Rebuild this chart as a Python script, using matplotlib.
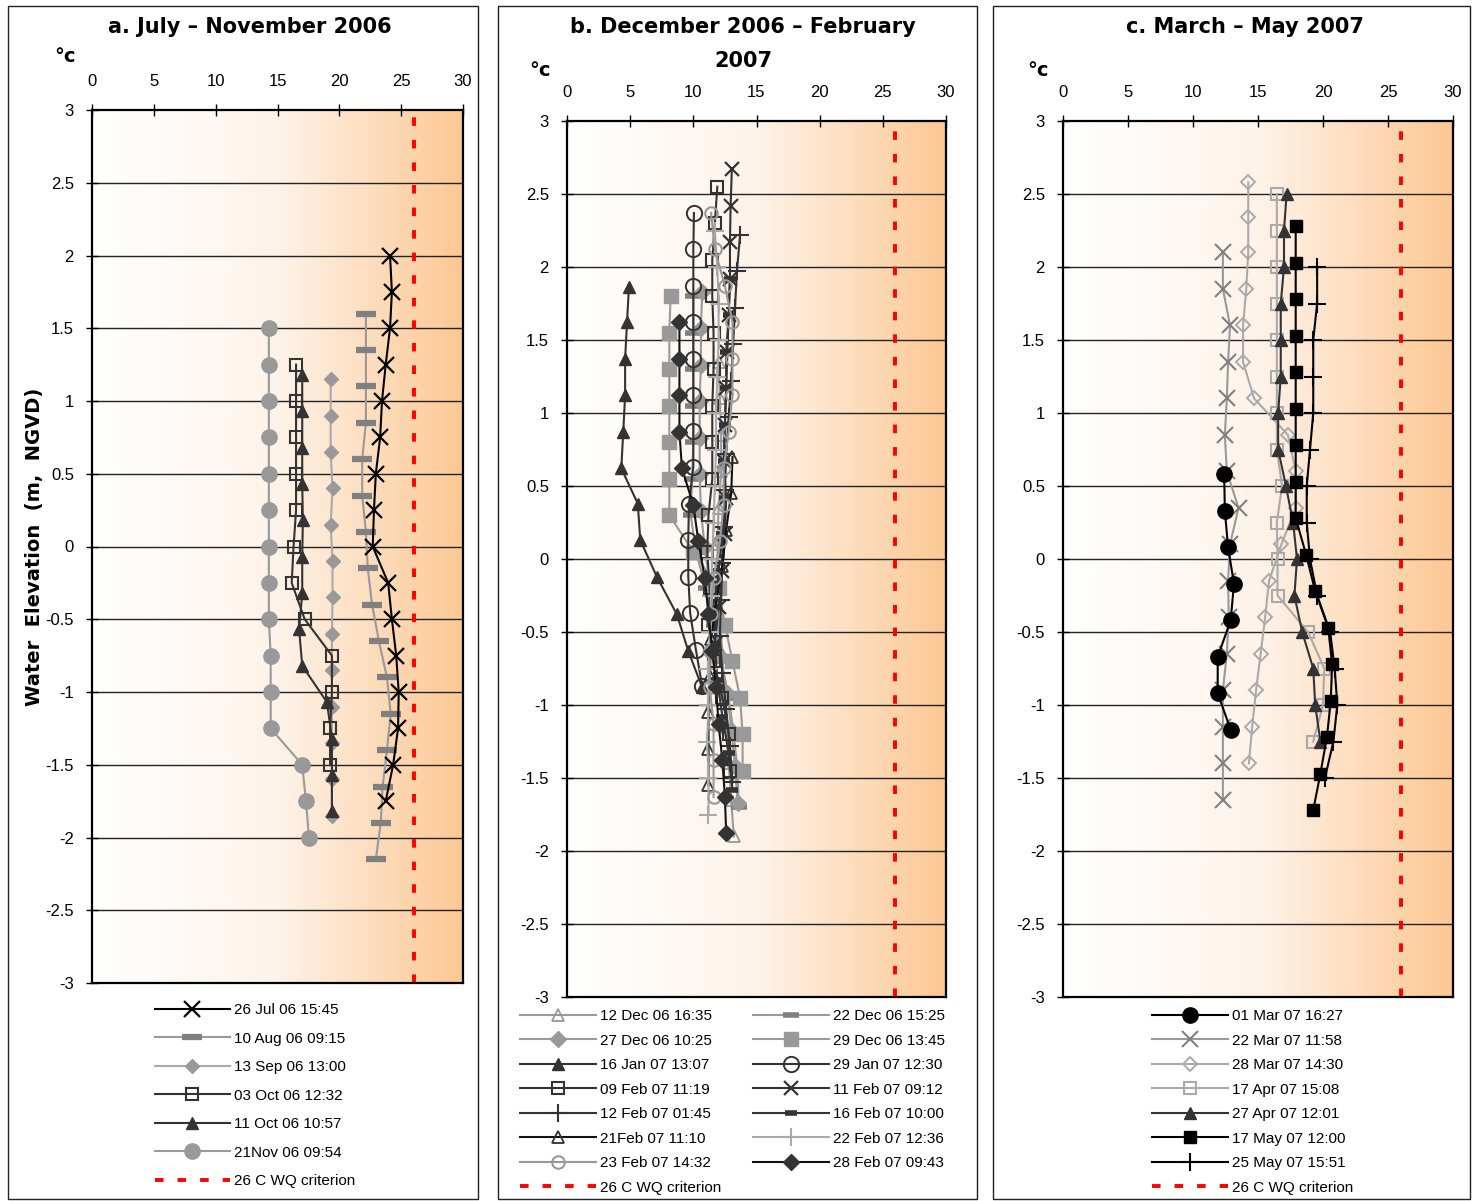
import numpy as np
import matplotlib
matplotlib.use('Agg')
import matplotlib.pyplot as plt
from matplotlib.colors import LinearSegmentedColormap
from matplotlib.patches import Rectangle

# ---------------- data: panel a (July - November 2006) ----------------
a_jul26_y = [2.0, 1.75, 1.5, 1.25, 1.0, 0.75, 0.5, 0.25, 0.0, -0.25, -0.5, -0.75, -1.0, -1.25, -1.5, -1.75]
a_jul26_t = [24.1, 24.25, 24.1, 23.75, 23.45, 23.3, 22.95, 22.8, 22.7, 23.95, 24.25, 24.6, 24.8, 24.75, 24.35, 23.75]
a_aug10_y = [1.6, 1.35, 1.1, 0.85, 0.6, 0.35, 0.1, -0.15, -0.4, -0.65, -0.9, -1.15, -1.4, -1.65, -1.9, -2.15]
a_aug10_t = [22.15, 22.15, 22.15, 22.15, 21.85, 21.85, 22.15, 22.3, 22.65, 23.2, 23.85, 24.15, 23.85, 23.5, 23.35, 22.95]
a_sep13_y = [1.15, 0.9, 0.65, 0.4, 0.15, -0.1, -0.35, -0.6, -0.85, -1.1, -1.35, -1.6, -1.85]
a_sep13_t = [19.3, 19.3, 19.3, 19.45, 19.3, 19.45, 19.45, 19.4, 19.4, 19.4, 19.4, 19.4, 19.4]
a_oct03_y = [1.25, 1.0, 0.75, 0.5, 0.25, 0.0, -0.25, -0.5, -0.75, -1.0, -1.25, -1.5]
a_oct03_t = [16.5, 16.5, 16.5, 16.5, 16.5, 16.3, 16.15, 17.2, 19.4, 19.4, 19.25, 19.25]
a_oct11_y = [1.18, 0.93, 0.68, 0.43, 0.18, -0.07, -0.32, -0.57, -0.82, -1.07, -1.32, -1.57, -1.82]
a_oct11_t = [17.0, 17.0, 17.0, 17.0, 17.05, 17.0, 17.0, 16.75, 17.0, 19.0, 19.4, 19.4, 19.4]
a_nov21_y = [1.5, 1.25, 1.0, 0.75, 0.5, 0.25, 0.0, -0.25, -0.5, -0.75, -1.0, -1.25, -1.5, -1.75, -2.0]
a_nov21_t = [14.3, 14.3, 14.3, 14.3, 14.3, 14.3, 14.3, 14.3, 14.3, 14.45, 14.45, 14.45, 17.0, 17.3, 17.55]

# ---------------- data: panel b (December 2006 - February 2007) ----------------
b_dec12_y = [1.35, 1.1, 0.85, 0.6, 0.35, 0.1, -0.15, -0.4, -0.65, -0.9, -1.15, -1.4, -1.65, -1.9]
b_dec12_t = [12.0, 12.1, 12.2, 12.2, 12.0, 11.9, 12.0, 12.1, 12.3, 12.4, 12.6, 12.8, 13.0, 13.2]
b_dec22_y = [1.8, 1.55, 1.3, 1.05, 0.8, 0.55, 0.3, 0.05, -0.2, -0.45, -0.7, -0.95, -1.2, -1.45, -1.7]
b_dec22_t = [10.0, 10.0, 10.0, 10.0, 10.0, 9.9, 9.8, 10.2, 11.0, 11.6, 12.2, 12.8, 13.2, 13.5, 13.6]
b_dec27_y = [1.83, 1.58, 1.33, 1.08, 0.83, 0.58, 0.33, 0.08, -0.17, -0.42, -0.67, -0.92, -1.17, -1.42, -1.67]
b_dec27_t = [10.7, 10.6, 10.6, 10.5, 10.5, 10.5, 10.6, 10.9, 11.3, 11.7, 12.2, 12.7, 13.0, 13.3, 13.5]
b_dec29_y = [1.8, 1.55, 1.3, 1.05, 0.8, 0.55, 0.3, 0.05, -0.2, -0.45, -0.7, -0.95, -1.2, -1.45]
b_dec29_t = [8.2, 8.1, 8.1, 8.1, 8.1, 8.1, 8.1, 10.0, 12.0, 12.5, 13.1, 13.7, 13.9, 13.9]
b_jan16_y = [1.86, 1.62, 1.37, 1.12, 0.87, 0.62, 0.38, 0.13, -0.12, -0.38, -0.63, -0.88]
b_jan16_t = [4.9, 4.75, 4.6, 4.6, 4.45, 4.3, 5.6, 5.8, 7.1, 8.7, 9.6, 10.7]
b_jan29_y = [2.37, 2.12, 1.87, 1.62, 1.37, 1.12, 0.88, 0.63, 0.38, 0.13, -0.12, -0.37, -0.62, -0.87]
b_jan29_t = [10.05, 10.0, 10.0, 10.0, 10.0, 10.0, 10.0, 10.0, 9.65, 9.6, 9.6, 9.75, 10.2, 10.7]
b_feb09_y = [2.55, 2.3, 2.05, 1.8, 1.55, 1.3, 1.05, 0.8, 0.55, 0.3, 0.05, -0.2, -0.45, -0.7, -0.95, -1.2, -1.45]
b_feb09_t = [11.9, 11.7, 11.5, 11.5, 11.6, 11.6, 11.5, 11.5, 11.5, 11.2, 11.1, 11.3, 11.2, 11.6, 12.3, 12.8, 12.9]
b_feb11_y = [2.67, 2.42, 2.17, 1.92, 1.67, 1.42, 1.17, 0.92, 0.67, 0.42, 0.17, -0.08, -0.33, -0.58]
b_feb11_t = [13.05, 12.95, 12.9, 12.9, 12.8, 12.7, 12.6, 12.5, 12.4, 12.6, 12.5, 12.3, 12.0, 11.7]
b_feb12_y = [2.22, 1.97, 1.72, 1.47, 1.22, 0.97, 0.72, 0.47, 0.22, -0.03, -0.28, -0.53, -0.78, -1.03, -1.28, -1.53]
b_feb12_t = [13.7, 13.45, 13.3, 13.15, 13.0, 12.8, 12.6, 12.5, 12.4, 12.3, 12.2, 12.1, 12.3, 12.6, 12.9, 13.1]
b_feb16_y = [1.92, 1.67, 1.42, 1.17, 0.92, 0.67, 0.42, 0.17, -0.08, -0.33, -0.58, -0.83, -1.08, -1.33, -1.58]
b_feb16_t = [12.9, 12.8, 12.6, 12.6, 12.5, 12.4, 12.5, 12.3, 12.0, 11.8, 11.7, 11.9, 12.3, 12.8, 13.1]
b_feb21_y = [0.7, 0.45, 0.2, -0.05, -0.3, -0.55, -0.8, -1.05, -1.3, -1.55]
b_feb21_t = [13.1, 13.0, 12.6, 12.3, 11.8, 11.4, 11.3, 11.2, 11.2, 11.2]
b_feb22_y = [2.25, 2.0, 1.75, 1.5, 1.25, 1.0, 0.75, 0.5, 0.25, 0.0, -0.25, -0.5, -0.75, -1.0, -1.25, -1.5, -1.75]
b_feb22_t = [11.7, 11.9, 12.0, 12.0, 11.9, 11.8, 11.8, 11.7, 11.6, 11.5, 11.4, 11.3, 11.2, 11.2, 11.1, 11.2, 11.2]
b_feb23_y = [2.37, 2.12, 1.87, 1.62, 1.37, 1.12, 0.87, 0.62, 0.37, 0.12, -0.13, -0.38, -0.63, -0.88, -1.13, -1.38, -1.63]
b_feb23_t = [11.4, 11.7, 12.5, 13.1, 13.1, 13.1, 12.8, 12.4, 12.4, 12.1, 11.6, 11.4, 11.3, 11.3, 11.6, 11.6, 11.6]
b_feb28_y = [1.62, 1.37, 1.12, 0.87, 0.62, 0.37, 0.12, -0.13, -0.38, -0.63, -0.88, -1.13, -1.38, -1.63, -1.88]
b_feb28_t = [8.9, 8.9, 8.9, 8.9, 9.1, 10.0, 10.4, 10.9, 11.2, 11.5, 11.8, 12.0, 12.3, 12.5, 12.6]

# ---------------- data: panel c (March - May 2007) ----------------
c_mar01_y = [0.58, 0.33, 0.08, -0.17, -0.42, -0.67, -0.92, -1.17]
c_mar01_t = [12.4, 12.45, 12.7, 13.15, 12.9, 11.9, 11.9, 12.9]
c_mar22_y = [2.1, 1.85, 1.6, 1.35, 1.1, 0.85, 0.6, 0.35, 0.1, -0.15, -0.4, -0.65, -0.9, -1.15, -1.4, -1.65]
c_mar22_t = [12.3, 12.3, 12.85, 12.7, 12.6, 12.45, 12.6, 13.5, 12.85, 12.7, 12.75, 12.6, 12.3, 12.3, 12.3, 12.3]
c_mar28_y = [2.58, 2.34, 2.1, 1.85, 1.6, 1.35, 1.1, 0.85, 0.6, 0.35, 0.1, -0.15, -0.4, -0.65, -0.9, -1.15, -1.4]
c_mar28_t = [14.25, 14.25, 14.25, 14.1, 13.85, 13.85, 14.7, 17.3, 17.9, 17.9, 16.8, 15.85, 15.55, 15.2, 14.85, 14.55, 14.3]
c_apr17_y = [2.5, 2.25, 2.0, 1.75, 1.5, 1.25, 1.0, 0.75, 0.5, 0.25, 0.0, -0.25, -0.5, -0.75, -1.0, -1.25]
c_apr17_t = [16.45, 16.45, 16.45, 16.45, 16.45, 16.45, 16.45, 16.45, 16.85, 16.45, 16.5, 16.5, 18.85, 20.1, 20.0, 19.25]
c_apr27_y = [2.5, 2.25, 2.0, 1.75, 1.5, 1.25, 1.0, 0.75, 0.5, 0.25, 0.0, -0.25, -0.5, -0.75, -1.0, -1.25]
c_apr27_t = [17.2, 17.0, 17.0, 16.75, 16.75, 16.75, 16.55, 16.55, 17.15, 17.7, 18.0, 17.8, 18.4, 19.25, 19.4, 19.8]
c_may17_y = [2.28, 2.03, 1.78, 1.53, 1.28, 1.03, 0.78, 0.53, 0.28, 0.03, -0.22, -0.47, -0.72, -0.97, -1.22, -1.47, -1.72]
c_may17_t = [17.9, 17.9, 17.9, 17.9, 17.9, 17.9, 17.9, 17.9, 17.9, 18.7, 19.4, 20.4, 20.7, 20.6, 20.3, 19.8, 19.25]
c_may25_y = [2.0, 1.75, 1.5, 1.25, 1.0, 0.75, 0.5, 0.25, 0.0, -0.25, -0.5, -0.75, -1.0, -1.25, -1.5]
c_may25_t = [19.55, 19.55, 19.25, 19.25, 19.25, 19.0, 18.75, 18.75, 19.0, 19.55, 20.55, 20.9, 21.1, 20.8, 20.15]

x_ticks = [0, 5, 10, 15, 20, 25, 30]
y_ticks = [3, 2.5, 2, 1.5, 1, 0.5, 0, -0.5, -1, -1.5, -2, -2.5, -3]
y_ticklabels = ['3', '2.5', '2', '1.5', '1', '0.5', '0', '-0.5', '-1', '-1.5', '-2', '-2.5', '-3']
criterion = 26
titles = [['a. July \u2013 November 2006'],
          ['b. December 2006 \u2013 February', '2007'],
          ['c. March \u2013 May 2007']]

# ---------------- figure ----------------
W, H = 1472, 1201
fig = plt.figure(figsize=(W / 100, H / 100), dpi=100)
TXT = ['Liberation Sans', 'DejaVu Sans']

def fx(px):
    return px / W

def fy(py):
    return 1 - py / H

# panel frames
for (x0, x1) in [(8, 478), (498, 977), (993, 1470)]:
    fig.add_artist(Rectangle((fx(x0), fy(1199)), fx(x1) - fx(x0), fy(6) - fy(1199),
                             transform=fig.transFigure, fill=False, ec='#222222', lw=1.0))

cmap = LinearSegmentedColormap.from_list('bg', ['#ffffff', '#fef3ea', '#fcc893'])

def setup(ax):
    grad = np.linspace(0, 1, 256).reshape(1, -1)
    ax.imshow(grad, extent=[0, 30, -3, 3], aspect='auto', cmap=cmap, zorder=0,
              interpolation='bilinear')
    ax.set_xlim(0, 30)
    ax.set_ylim(-3, 3)
    for yv in y_ticks[1:-1]:
        ax.axhline(yv, color='#222222', lw=1.0, zorder=1)
    wq = ax.axvline(criterion, color='#ff0000', lw=2.8, ls=(0, (2.2, 3.6)), zorder=6,
                    label='26 C WQ criterion')
    ax.xaxis.tick_top()
    ax.set_xticks(x_ticks)
    ax.set_xticklabels([str(v) for v in x_ticks], family=TXT)
    ax.set_yticks(y_ticks)
    ax.set_yticklabels(y_ticklabels, family=TXT)
    ax.tick_params(direction='inout', length=8, width=1, labelsize=12, colors='black')
    ax.tick_params(axis='x', pad=11)
    ax.tick_params(axis='y', pad=9)
    for s in ax.spines.values():
        s.set_linewidth(1.6)
        s.set_color('black')
        s.set_zorder(7)
    return wq

DK = '#333333'
MG = '#808080'
LG = '#999999'
VL = '#aaaaaa'

# ---------------- panel a ----------------
ax_a = fig.add_axes([fx(92), fy(983), fx(463) - fx(92), fy(110) - fy(983)])
wq_a = setup(ax_a)
la = []
la.append(ax_a.plot(a_jul26_t, a_jul26_y, color='black', lw=1.5, marker='x', ms=11, mew=1.6,
                    label='26 Jul 06 15:45', zorder=5)[0])
la.append(ax_a.plot(a_aug10_t, a_aug10_y, color=LG, lw=1.5, marker='_', ms=14, mew=4.5, mec=MG,
                    label='10 Aug 06 09:15', zorder=4)[0])
la.append(ax_a.plot(a_sep13_t, a_sep13_y, color=VL, lw=1.5, marker='D', ms=7, mfc=LG, mec=LG,
                    label='13 Sep 06 13:00', zorder=4)[0])
la.append(ax_a.plot(a_oct03_t, a_oct03_y, color=DK, lw=1.5, marker='s', ms=8.5, mfc='none', mec=DK,
                    mew=1.5, label='03 Oct 06 12:32', zorder=4)[0])
la.append(ax_a.plot(a_oct11_t, a_oct11_y, color=DK, lw=1.5, marker='^', ms=9, mfc=DK, mec=DK,
                    label='11 Oct 06 10:57', zorder=4)[0])
la.append(ax_a.plot(a_nov21_t, a_nov21_y, color=LG, lw=1.5, marker='o', ms=11, mfc=LG, mec=LG,
                    label='21Nov 06 09:54', zorder=4)[0])
la.append(wq_a)
ax_a.legend(handles=la, loc='upper left', bbox_to_anchor=(fx(155), fy(1003)),
            bbox_transform=fig.transFigure, frameon=False, borderpad=0, borderaxespad=0,
            handlelength=4.9, handletextpad=0.25, labelspacing=0.95,
            prop={'family': TXT, 'size': 11})
ax_a.set_ylabel('Water  Elevation  (m,  NGVD)', fontsize=14, fontweight='bold')
ax_a.yaxis.set_label_coords((fx(44) - fx(92)) / (fx(463) - fx(92)), 0.5)

# ---------------- panel b ----------------
ax_b = fig.add_axes([fx(567), fy(997), fx(946) - fx(567), fy(121) - fy(997)])
wq_b = setup(ax_b)
hb = {}
hb['dec12'] = ax_b.plot(b_dec12_t, b_dec12_y, color=LG, lw=1.5, marker='^', ms=8, mfc='none', mec=LG,
                        mew=1.3, label='12 Dec 06 16:35', zorder=4)[0]
hb['dec22'] = ax_b.plot(b_dec22_t, b_dec22_y, color=LG, lw=1.5, marker='_', ms=12, mew=4, mec=MG,
                        label='22 Dec 06 15:25', zorder=4)[0]
hb['dec27'] = ax_b.plot(b_dec27_t, b_dec27_y, color=LG, lw=1.5, marker='D', ms=8, mfc=LG, mec=LG,
                        label='27 Dec 06 10:25', zorder=4)[0]
hb['dec29'] = ax_b.plot(b_dec29_t, b_dec29_y, color=LG, lw=1.5, marker='s', ms=10, mfc=LG, mec=LG,
                        label='29 Dec 06 13:45', zorder=4)[0]
hb['jan16'] = ax_b.plot(b_jan16_t, b_jan16_y, color=DK, lw=1.5, marker='^', ms=9, mfc=DK, mec=DK,
                        label='16 Jan 07 13:07', zorder=4)[0]
hb['jan29'] = ax_b.plot(b_jan29_t, b_jan29_y, color=DK, lw=1.5, marker='o', ms=11, mfc='none', mec=DK,
                        mew=1.4, label='29 Jan 07 12:30', zorder=4)[0]
hb['feb09'] = ax_b.plot(b_feb09_t, b_feb09_y, color=DK, lw=1.5, marker='s', ms=9, mfc='none', mec=DK,
                        mew=1.5, label='09 Feb 07 11:19', zorder=4)[0]
hb['feb11'] = ax_b.plot(b_feb11_t, b_feb11_y, color=DK, lw=1.5, marker='x', ms=10, mew=1.6, mec=DK,
                        label='11 Feb 07 09:12', zorder=4)[0]
hb['feb12'] = ax_b.plot(b_feb12_t, b_feb12_y, color=DK, lw=1.5, marker='+', ms=13, mew=1.5, mec=DK,
                        label='12 Feb 07 01:45', zorder=4)[0]
hb['feb16'] = ax_b.plot(b_feb16_t, b_feb16_y, color=DK, lw=1.5, marker='_', ms=9, mew=4, mec=DK,
                        label='16 Feb 07 10:00', zorder=4)[0]
hb['feb21'] = ax_b.plot(b_feb21_t, b_feb21_y, color='#111111', lw=1.5, marker='^', ms=8, mfc='none',
                        mec=DK, mew=1.3, label='21Feb 07 11:10', zorder=4)[0]
hb['feb22'] = ax_b.plot(b_feb22_t, b_feb22_y, color=VL, lw=1.5, marker='+', ms=13, mew=1.5, mec=VL,
                        label='22 Feb 07 12:36', zorder=4)[0]
hb['feb23'] = ax_b.plot(b_feb23_t, b_feb23_y, color=LG, lw=1.5, marker='o', ms=9, mfc='none', mec=LG,
                        mew=1.5, label='23 Feb 07 14:32', zorder=4)[0]
hb['feb28'] = ax_b.plot(b_feb28_t, b_feb28_y, color='#111111', lw=1.5, marker='D', ms=8, mfc=DK, mec=DK,
                        label='28 Feb 07 09:43', zorder=4)[0]
order_b = ['dec12', 'dec27', 'jan16', 'feb09', 'feb12', 'feb21', 'feb23',
           'dec22', 'dec29', 'jan29', 'feb11', 'feb16', 'feb22', 'feb28']
handles_b = [hb[k] for k in order_b[:7]] + [wq_b] + [hb[k] for k in order_b[7:]]
ax_b.legend(handles=handles_b, ncol=2, loc='upper left', bbox_to_anchor=(fx(520), fy(1009)),
            bbox_transform=fig.transFigure, frameon=False, borderpad=0, borderaxespad=0,
            handlelength=5.0, handletextpad=0.25, labelspacing=0.69, columnspacing=2.05,
            prop={'family': TXT, 'size': 11})

# ---------------- panel c ----------------
ax_c = fig.add_axes([fx(1063), fy(997), fx(1453) - fx(1063), fy(121) - fy(997)])
wq_c = setup(ax_c)
lc = []
lc.append(ax_c.plot(c_mar01_t, c_mar01_y, color='black', lw=1.5, marker='o', ms=11, mfc='black',
                    mec='black', label='01 Mar 07 16:27', zorder=5)[0])
lc.append(ax_c.plot(c_mar22_t, c_mar22_y, color=LG, lw=1.5, marker='x', ms=11, mew=1.5, mec=MG,
                    label='22 Mar 07 11:58', zorder=4)[0])
lc.append(ax_c.plot(c_mar28_t, c_mar28_y, color=VL, lw=1.5, marker='D', ms=7, mfc='none', mec=VL,
                    mew=1.4, label='28 Mar 07 14:30', zorder=4)[0])
lc.append(ax_c.plot(c_apr17_t, c_apr17_y, color=VL, lw=1.5, marker='s', ms=9, mfc='none', mec=VL,
                    mew=1.5, label='17 Apr 07 15:08', zorder=4)[0])
lc.append(ax_c.plot(c_apr27_t, c_apr27_y, color=DK, lw=1.5, marker='^', ms=9, mfc=DK, mec=DK,
                    label='27 Apr 07 12:01', zorder=4)[0])
lc.append(ax_c.plot(c_may17_t, c_may17_y, color='black', lw=1.5, marker='s', ms=9, mfc='black',
                    mec='black', label='17 May 07 12:00', zorder=5)[0])
lc.append(ax_c.plot(c_may25_t, c_may25_y, color='black', lw=1.5, marker='+', ms=13, mew=1.5,
                    label='25 May 07 15:51', zorder=5)[0])
lc.append(wq_c)
ax_c.legend(handles=lc, loc='upper left', bbox_to_anchor=(fx(1152), fy(1009)),
            bbox_transform=fig.transFigure, frameon=False, borderpad=0, borderaxespad=0,
            handlelength=5.0, handletextpad=0.25, labelspacing=0.69,
            prop={'family': TXT, 'size': 11})

# ---------------- titles and unit labels ----------------
title_x = [250, 743, 1245]
for tx, lines in zip(title_x, titles):
    for i, line in enumerate(lines):
        fig.text(fx(tx), fy(27 + 34 * i), line, ha='center', va='center', fontsize=15,
                 fontweight='bold')
for (ux, uy) in [(65, 57), (540, 70), (1038, 70)]:
    fig.text(fx(ux), fy(uy), '\u00b0c', ha='center', va='center', fontsize=14, fontweight='bold')

fig.savefig('out.png', dpi=100)
